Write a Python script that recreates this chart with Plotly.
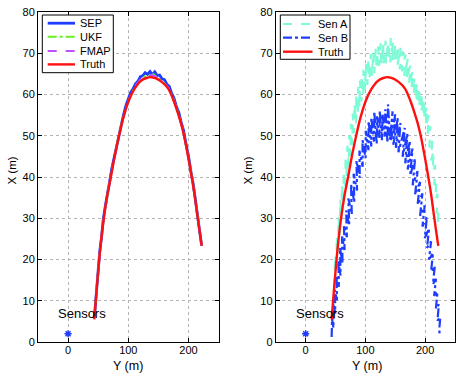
import plotly.graph_objects as go

# ---------------- data ----------------
TRUTH_Y = [43.5, 47, 50.5, 54, 59, 65, 71, 78, 85, 92, 101, 110, 120, 130, 138, 146,
           156, 166, 175, 183, 187, 192, 197, 202, 206, 210, 214, 218, 222]
TRUTH_X = [5.5, 12, 18, 23.5, 29.7, 35.5, 40, 45.5, 50.3, 54.5, 58.6, 61.3, 63.2, 64, 64.2, 63.9,
           63, 61.5, 58.6, 55.2, 53.3, 50.4, 46.8, 42.8, 39.4, 35.8, 31.5, 27.3, 23.3]

SEP_Y = [43.8, 46.5, 49.5, 52.5, 55.5, 58.5, 62, 65.5, 69, 72.5, 76, 80, 84, 88, 92, 96, 100, 104,
         108, 112, 116, 120, 124, 128, 132, 136, 140, 144, 148, 152, 156, 160, 164, 168, 172, 176,
         180, 184, 188, 192, 196, 200, 204, 208, 212, 216, 219, 221.8]
SEP_X = [6.2, 11.4, 16.2, 21.9, 25.3, 29.9, 33.1, 36.6, 38.9, 42.0, 44.3, 47.6, 50.1, 52.9, 55.0,
         57.3, 58.8, 60.5, 61.4, 62.6, 63.2, 64.3, 64.5, 65.3, 64.9, 65.6, 64.8, 65.5, 64.6, 64.7,
         63.8, 63.6, 62.5, 62.0, 60.3, 59.1, 57.0, 55.6, 53.2, 51.2, 47.9, 45.1, 41.4, 38.2, 33.9,
         29.8, 26.4, 23.4]

EST_Y = [44, 48, 52, 57, 62, 68, 75, 82, 90, 98, 106, 114, 122, 130, 136, 142, 150, 158, 166,
         174, 182, 190, 198, 206, 213, 218, 221.8]
UKF_X = [6.4, 14.9, 20.9, 27.8, 33.0, 38.1, 43.2, 48.6, 53.5, 57.6, 60.5, 62.4, 63.9, 64.6, 64.5,
         64.9, 63.8, 63.0, 61.7, 59.3, 55.9, 51.9, 46.2, 39.7, 32.8, 27.5, 23.6]
FMAP_X = [6.6, 14.7, 20.8, 27.7, 32.9, 38.0, 43.5, 48.4, 53.6, 57.5, 60.4, 62.5, 63.8, 64.8, 64.7,
          64.6, 64.0, 63.1, 61.8, 59.2, 55.9, 51.8, 46.3, 39.6, 32.9, 27.4, 23.5]

SENA_Y = [47.5, 49.6, 51.6, 52.1, 54.2, 55.0, 57.1, 58.0, 60.1, 60.9, 63.2, 63.8, 66.3, 66.9, 69.2,
          69.8, 72.3, 72.8, 75.3, 75.7, 78.4, 78.8, 81.3, 81.7, 84.4, 84.8, 87.3, 87.9, 90.2, 90.8,
          93.3, 93.8, 96.2, 96.9, 99.2, 101.0, 103.1, 105.1, 107.0, 109.2, 110.9, 113.3, 114.8,
          117.4, 118.7, 121.5, 122.6, 125.6, 126.5, 129.7, 130.3, 133.8, 134.2, 138.0, 138.1,
          142.3, 141.8, 146.4, 145.7, 150.5, 149.6, 154.6, 153.5, 158.7, 157.4, 162.8, 161.3,
          166.9, 165.2, 171.0, 169.1, 175.1, 173.0, 179.2, 176.9, 183.3, 180.8, 187.4, 184.7,
          191.3, 188.6, 195.3, 192.6, 199.3, 196.7, 203.2, 200.8, 206.1, 203.9, 209.0, 207.0,
          211.9, 210.1, 214.3, 212.6, 216.7, 215.3, 218.6, 217.4, 220.6, 219.4, 222.5, 221.5, 224.2]
SENA_X = [13.0, 21.2, 17.1, 25.9, 21.3, 30.4, 26.0, 34.6, 30.1, 38.3, 33.7, 41.5, 36.8, 44.4, 39.9,
          47.6, 42.6, 50.2, 45.1, 52.9, 47.8, 55.4, 50.6, 57.9, 53.0, 60.2, 55.1, 61.9, 56.8, 63.4,
          58.3, 64.7, 59.6, 66.0, 61.1, 67.6, 62.3, 68.7, 63.5, 69.8, 64.4, 70.4, 65.1, 71.3, 66.0,
          71.6, 66.9, 72.4, 67.0, 72.5, 67.6, 73.0, 67.4, 72.8, 68.3, 73.7, 67.8, 72.6, 67.9, 72.3,
          67.4, 71.9, 66.9, 71.4, 66.1, 70.5, 65.6, 69.7, 64.4, 68.6, 63.5, 67.1, 62.0, 65.8, 60.7,
          64.3, 59.3, 62.9, 57.8, 61.8, 56.9, 60.6, 55.6, 59.0, 54.0, 57.2, 52.1, 55.0, 49.8, 52.3,
          47.2, 49.2, 44.0, 46.4, 41.3, 42.9, 38.0, 39.6, 34.5, 35.9, 31.1, 32.6, 28.3, 27.2]

SENB_Y = [43.5, 44.2, 46.5, 46.4, 49.6, 49.0, 52.3, 51.8, 55.6, 54.7, 58.4, 57.5, 61.8, 60.9, 65.2,
          64.1, 69.0, 67.8, 72.9, 71.5, 77.2, 75.9, 81.4, 80.3, 86.0, 85.1, 90.6, 90.0, 95.4, 95.2,
          100.3, 100.6, 105.1, 105.4, 109.8, 110.0, 114.3, 114.9, 118.9, 119.6, 123.4, 124.1,
          127.8, 128.7, 132.5, 133.3, 137.0, 137.8, 141.2, 145.5, 142.6, 149.9, 146.8, 154.2,
          151.0, 158.6, 155.3, 165.9, 162.4, 170.3, 166.7, 174.6, 170.8, 178.9, 175.0, 183.2,
          179.1, 187.3, 183.2, 191.5, 187.4, 195.4, 191.6, 199.3, 195.5, 203.0, 199.4, 206.6,
          203.1, 210.0, 206.5, 213.3, 209.9, 216.2, 213.0, 218.1, 215.1, 220.7, 218.0, 223.0,
          220.6, 225.4, 223.5, 224.8]
SENB_X = [1.2, 5.6, 3.4, 9.3, 6.9, 12.6, 10.1, 15.9, 13.4, 19.6, 16.1, 22.8, 19.0, 25.6, 22.3,
          28.3, 25.4, 31.9, 28.2, 34.8, 31.0, 38.2, 33.9, 40.8, 36.7, 43.9, 39.8, 46.4, 42.5, 48.9,
          44.6, 51.2, 46.5, 53.5, 47.4, 54.4, 48.6, 55.8, 48.1, 54.7, 49.5, 56.0, 48.9, 55.3, 49.8,
          56.4, 48.3, 57.6, 49.1, 55.9, 48.6, 55.2, 47.8, 54.3, 47.1, 53.1, 46.0, 51.9, 44.9, 50.5,
          43.3, 48.8, 41.8, 46.9, 40.4, 44.5, 38.0, 41.4, 35.7, 38.8, 33.3, 36.0, 30.6, 33.1, 28.0,
          30.3, 25.2, 27.5, 22.8, 24.4, 20.0, 21.6, 17.1, 18.4, 14.0, 15.3, 11.2, 12.2, 8.1, 9.1,
          5.2, 6.0, 2.9, 1.6]

SENSOR_Y = [0]
SENSOR_X = [2]

X_TICKS = [0, 100, 200]
Y_TICKS = [0, 10, 20, 30, 40, 50, 60, 70, 80]

LEFT_NAMES = ["SEP", "UKF", "FMAP", "Truth"]
RIGHT_NAMES = ["Sen A", "Sen B", "Truth"]

# ---------------- styling ----------------
FONT = "Liberation Sans, Arial, Helvetica, sans-serif"
BLUE = "#1f3dff"
RED = "#ff1010"
GREEN = "#66f020"
PURPLE = "#c050ff"
AQUA = "#7dfad6"

STY = {
    "SEP": dict(color=BLUE, width=2.8),
    "UKF": dict(color=GREEN, width=2, dash="dashdot"),
    "FMAP": dict(color=PURPLE, width=2, dash="dash"),
    "Truth": dict(color=RED, width=2.4),
    "Sen A": dict(color=AQUA, width=2.2, dash="dash"),
    "Sen B": dict(color=BLUE, width=2.2, dash="dashdot"),
}

W, H = 463, 374
ML, MR, MT, MB = 38, 8, 12, 32
PW = W - ML - MR
PH = H - MT - MB


def px_x(p):
    return (p - ML) / PW


def px_y(p):
    return 1 - (p - MT) / PH


fig = go.Figure()

# left panel
fig.add_trace(go.Scatter(x=SEP_Y, y=SEP_X, mode="lines", name="SEP", showlegend=False,
                         line=STY["SEP"], xaxis="x", yaxis="y"))
fig.add_trace(go.Scatter(x=EST_Y, y=UKF_X, mode="lines", name="UKF", showlegend=False,
                         line=STY["UKF"], xaxis="x", yaxis="y"))
fig.add_trace(go.Scatter(x=EST_Y, y=FMAP_X, mode="lines", name="FMAP", showlegend=False,
                         line=STY["FMAP"], xaxis="x", yaxis="y"))
fig.add_trace(go.Scatter(x=TRUTH_Y, y=TRUTH_X, mode="lines", name="Truth", showlegend=False,
                         line=dict(**STY["Truth"], shape="spline"), xaxis="x", yaxis="y"))
fig.add_trace(go.Scatter(x=SENSOR_Y, y=SENSOR_X, mode="markers", name="Sensors", showlegend=False,
                         marker=dict(symbol="asterisk-open", size=6, color=BLUE,
                                     line=dict(color=BLUE, width=1.5)),
                         xaxis="x", yaxis="y"))

# right panel
fig.add_trace(go.Scatter(x=SENA_Y, y=SENA_X, mode="lines", name="Sen A", showlegend=False,
                         line=STY["Sen A"], xaxis="x2", yaxis="y2"))
fig.add_trace(go.Scatter(x=SENB_Y, y=SENB_X, mode="lines", name="Sen B", showlegend=False,
                         line=STY["Sen B"], xaxis="x2", yaxis="y2"))
fig.add_trace(go.Scatter(x=TRUTH_Y, y=TRUTH_X, mode="lines", name="Truth", showlegend=False,
                         line=dict(**STY["Truth"], shape="spline"), xaxis="x2", yaxis="y2"))
fig.add_trace(go.Scatter(x=SENSOR_Y, y=SENSOR_X, mode="markers", name="Sensors", showlegend=False,
                         marker=dict(symbol="asterisk-open", size=6, color=BLUE,
                                     line=dict(color=BLUE, width=1.5)),
                         xaxis="x2", yaxis="y2"))

axis_common = dict(showline=True, linecolor="black", linewidth=1, mirror="ticks",
                   ticks="inside", ticklen=4, tickcolor="black", tickwidth=1,
                   showgrid=True, gridcolor="#b4b4b4", griddash="dot", gridwidth=1,
                   zeroline=False, automargin=False,
                   tickfont=dict(family=FONT, size=11, color="black"))

fig.update_layout(
    width=W, height=H,
    margin=dict(l=ML, r=MR, t=MT, b=MB, autoexpand=False),
    paper_bgcolor="white", plot_bgcolor="white",
    font=dict(family=FONT, size=11, color="black"),
    xaxis=dict(domain=[0, px_x(218.6)], range=[-50, 250], tickvals=X_TICKS, anchor="y",
               ticklabelstandoff=-2, **axis_common),
    yaxis=dict(domain=[0, 1], range=[0, 80], tickvals=Y_TICKS, anchor="x", **axis_common),
    xaxis2=dict(domain=[px_x(275.8), 1], range=[-50, 250], tickvals=X_TICKS, anchor="y2",
                ticklabelstandoff=-2, **axis_common),
    yaxis2=dict(domain=[0, 1], range=[0, 80], tickvals=Y_TICKS, anchor="x2", **axis_common),
    showlegend=False,
)

annos = [
    dict(text="Y (m)", x=px_x(127.5), y=px_y(366), xref="paper", yref="paper", showarrow=False,
         font=dict(size=12.5), xanchor="center", yanchor="middle"),
    dict(text="Y (m)", x=px_x(366.5), y=px_y(366), xref="paper", yref="paper", showarrow=False,
         font=dict(size=12.5), xanchor="center", yanchor="middle"),
    dict(text="X (m)", x=px_x(11.5), y=px_y(171), xref="paper", yref="paper", showarrow=False,
         font=dict(size=11.5), textangle=-90, xanchor="center", yanchor="middle"),
    dict(text="X (m)", x=px_x(247.5), y=px_y(171), xref="paper", yref="paper", showarrow=False,
         font=dict(size=11.5), textangle=-90, xanchor="center", yanchor="middle"),
    dict(text="Sensors", x=-20, y=7, xref="x", yref="y", showarrow=False,
         font=dict(size=13), xanchor="left", yanchor="middle"),
    dict(text="Sensors", x=-20, y=7, xref="x2", yref="y2", showarrow=False,
         font=dict(size=13), xanchor="left", yanchor="middle"),
]

shapes = []


def add_key(names, box, line_x0, line_x1, text_x, row_y):
    x0, y0, x1, y1 = box
    shapes.append(dict(type="rect", xref="paper", yref="paper",
                       x0=px_x(x0), x1=px_x(x1), y0=px_y(y1), y1=px_y(y0),
                       line=dict(color="black", width=1), fillcolor="white", layer="above"))
    for name, yy in zip(names, row_y):
        st = STY[name]
        shapes.append(dict(type="line", xref="paper", yref="paper",
                           x0=px_x(line_x0), x1=px_x(line_x1), y0=px_y(yy), y1=px_y(yy),
                           line=dict(color=st["color"], width=st["width"], dash=st.get("dash", "solid")),
                           layer="above"))
        annos.append(dict(text=name, x=px_x(text_x), y=px_y(yy), xref="paper", yref="paper",
                          showarrow=False, xanchor="left", yanchor="middle",
                          font=dict(size=11)))


add_key(LEFT_NAMES, (42.3, 15, 113.3, 72.7), 47.7, 75, 77.5, [23.2, 36.7, 51.0, 64.4])
add_key(RIGHT_NAMES, (280.3, 15, 350, 59.3), 283, 312.5, 316, [24.0, 37.7, 51.7])

fig.update_layout(annotations=annos, shapes=shapes)

fig.write_html("out.html", config={"displayModeBar": False},
               post_script="document.body.style.margin='0px';document.documentElement.style.margin='0px';")
